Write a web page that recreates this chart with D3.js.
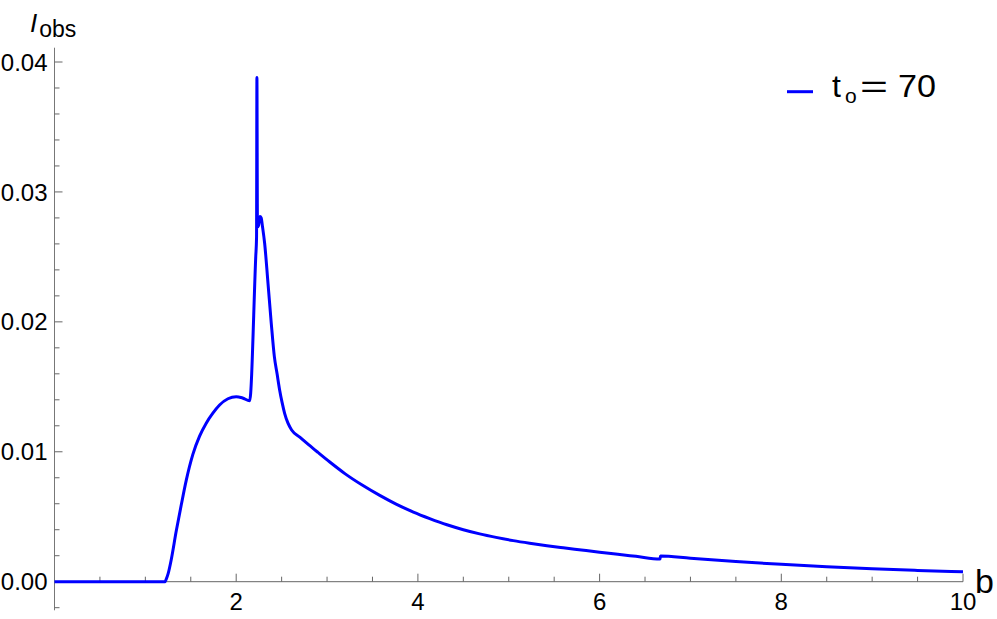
<!DOCTYPE html>
<html><head><meta charset="utf-8">
<script src="https://cdn.jsdelivr.net/npm/d3@7"></script>
<style>body{margin:0;background:#fff}svg{display:block}text{font-family:"Liberation Sans",Arial,sans-serif}</style>
</head><body>
<svg id="c" width="997" height="619"></svg>
<script>
const bValues = [0, 1.216, 1.23, 1.25, 1.285, 1.34, 1.395, 1.45, 1.523, 1.597, 1.67, 1.743, 1.817, 1.909, 2.0, 2.07, 2.148,
  2.215, 2.224, 2.228, 2.234, 2.245, 2.262, 2.275, 2.29, 2.313, 2.35, 2.386, 2.42, 2.45, 2.478, 2.505, 2.533,
  2.57, 2.61, 2.70, 2.80, 2.90, 3.03, 3.20, 3.40, 3.58, 3.76, 3.95, 4.13, 4.32, 4.50, 4.68,
  4.86, 5.05, 5.23, 5.42, 5.60, 5.80, 6.0, 6.2, 6.4, 6.665, 6.67, 7.0, 7.5, 8.0, 8.5, 9.0, 9.5, 10.0];
const iObs = [0, 0, 0.0002, 0.0006, 0.0017, 0.0039, 0.0059, 0.0078, 0.0098, 0.0112, 0.0122, 0.01297, 0.0136, 0.01408, 0.01424, 0.01414, 0.01393,
  0.0250, 0.0265, 0.0388, 0.0273, 0.0274, 0.0281, 0.0280, 0.0273, 0.02605, 0.02297, 0.01989, 0.01732, 0.0160, 0.01476, 0.0138, 0.01296,
  0.0122, 0.01168, 0.01113, 0.01053, 0.00995, 0.00921, 0.0083, 0.00738, 0.00664, 0.00597, 0.00536, 0.00486, 0.00438, 0.0040, 0.00368,
  0.00341, 0.00316, 0.00296, 0.00277, 0.00261, 0.00244, 0.00227, 0.00211, 0.00195, 0.00174, 0.00198, 0.0018, 0.00155, 0.00134, 0.00116, 0.0010, 0.00087, 0.00076];
const xMajor = [2, 4, 6, 8, 10];
const xMinor = [0.5, 1, 1.5, 2.5, 3, 3.5, 4.5, 5, 5.5, 6.5, 7, 7.5, 8.5, 9, 9.5];
const yMajor = [0, 0.01, 0.02, 0.03, 0.04];
const yMinor = [-0.002, 0.002, 0.004, 0.006, 0.008, 0.012, 0.014, 0.016, 0.018, 0.022, 0.024, 0.026, 0.028, 0.032, 0.034, 0.036, 0.038];
const seriesLabel = "70";
const lineColor = "#0000ff";

const svg = d3.select("#c");
const x = d3.scaleLinear().domain([0, 10]).range([54.5, 963]);
const y = d3.scaleLinear().domain([0, 0.04]).range([581.7, 62]);

// axes lines
svg.append("line").attr("x1", x(0)).attr("x2", x(10)).attr("y1", y(0)).attr("y2", y(0))
  .attr("stroke", "#666").attr("stroke-width", 1);
svg.append("line").attr("x1", x(0)).attr("x2", x(0)).attr("y1", y(-0.0022)).attr("y2", y(0.0411))
  .attr("stroke", "#777").attr("stroke-width", 1);

// x ticks (inward)
const xAxis = svg.append("g");
xAxis.selectAll("line.maj").data(xMajor).join("line").attr("class", "maj")
  .attr("x1", d => x(d)).attr("x2", d => x(d)).attr("y1", y(0)).attr("y2", y(0) - 8)
  .attr("stroke", "#666").attr("stroke-width", 1);
xAxis.selectAll("line.min").data(xMinor).join("line").attr("class", "min")
  .attr("x1", d => x(d)).attr("x2", d => x(d)).attr("y1", y(0)).attr("y2", y(0) - 5)
  .attr("stroke", "#666").attr("stroke-width", 1);
xAxis.selectAll("text").data(xMajor).join("text")
  .attr("x", d => x(d)).attr("y", 610).attr("text-anchor", "middle")
  .attr("font-size", 24).attr("fill", "#000").text(d => d3.format("d")(d));

// y ticks
const yAxis = svg.append("g");
yAxis.selectAll("line.maj").data(yMajor).join("line").attr("class", "maj")
  .attr("x1", x(0)).attr("x2", x(0) + 8).attr("y1", d => y(d)).attr("y2", d => y(d))
  .attr("stroke", "#666").attr("stroke-width", 1);
yAxis.selectAll("line.min").data(yMinor).join("line").attr("class", "min")
  .attr("x1", x(0)).attr("x2", x(0) + 5).attr("y1", d => y(d)).attr("y2", d => y(d))
  .attr("stroke", "#666").attr("stroke-width", 1);
yAxis.selectAll("text").data(yMajor).join("text")
  .attr("x", 47.5).attr("y", d => y(d) + 8.6).attr("text-anchor", "end")
  .attr("font-size", 24).attr("fill", "#000").text(d => d3.format(".2f")(d));

// axis labels
svg.append("text").attr("x", 975).attr("y", 593).attr("font-size", 34).attr("fill", "#000").text("b");
const yl = svg.append("text").attr("x", 30).attr("y", 32).attr("fill", "#000");
yl.append("tspan").attr("font-size", 26).attr("font-style", "italic").text("I");
yl.append("tspan").attr("font-size", 23).attr("dx", 2).attr("dy", 5).text("obs");

// curve
const data = bValues.map((b, i) => [b, iObs[i]]);
const line = d3.line().x(d => x(d[0])).y(d => y(d[1])).curve(d3.curveMonotoneX);
svg.append("path").datum(data).attr("d", line).attr("fill", "none")
  .attr("stroke", lineColor).attr("stroke-width", 3).attr("stroke-linejoin", "round");

// legend
svg.append("line").attr("x1", 787).attr("x2", 813).attr("y1", 91.7).attr("y2", 91.7)
  .attr("stroke", lineColor).attr("stroke-width", 3);
const lg = svg.append("g").attr("fill", "#000");
lg.append("text").attr("x", 832).attr("y", 97).attr("font-size", 32).text("t");
lg.append("text").attr("x", 845).attr("y", 103).attr("font-size", 21).text("o");
lg.append("text").attr("x", 860).attr("y", 97).attr("font-size", 32)
  .attr("textLength", 28).attr("lengthAdjust", "spacingAndGlyphs").text("=");
lg.append("text").attr("x", 898).attr("y", 97).attr("font-size", 31)
  .attr("textLength", 38).attr("lengthAdjust", "spacingAndGlyphs").text(seriesLabel);
</script>
</body></html>
